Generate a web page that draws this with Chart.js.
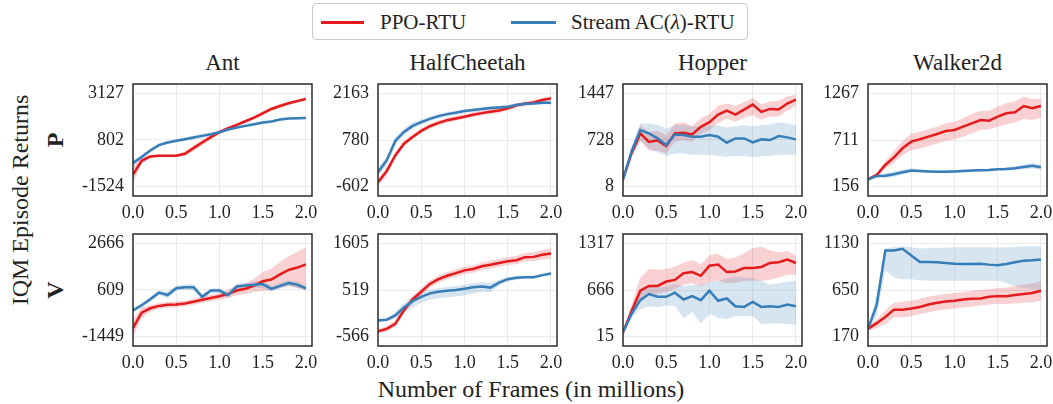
<!DOCTYPE html>
<html><head><meta charset="utf-8">
<script src="https://cdn.jsdelivr.net/npm/chart.js@4.4.1/dist/chart.umd.min.js"></script>
<style>
html,body{margin:0;padding:0;background:#fff;}
body{width:1053px;height:404px;position:relative;overflow:hidden;font-family:'Liberation Serif','Times New Roman',serif;color:#222;}
canvas{position:absolute;}
.t{position:absolute;white-space:nowrap;line-height:1;}
.legend{position:absolute;left:312px;top:3px;width:436px;height:37px;border:1.5px solid #c8c8c8;border-radius:4px;box-sizing:border-box;}
.sw{position:absolute;height:3px;top:17px;}
</style></head><body>
<div class="legend">
  <div class="sw" style="left:8px;width:43px;background:#e41a1c"></div>
  <div class="t" style="left:67px;top:8px;font-size:21px">PPO-RTU</div>
  <div class="sw" style="left:198px;width:45px;background:#377eb8"></div>
  <div class="t" style="left:258px;top:8px;font-size:21px">Stream AC(<i>λ</i>)-RTU</div>
</div>
<div class="t" style="left:20px;top:200px;font-size:24px;transform:translate(-50%,-50%) rotate(-90deg)">IQM Episode Returns</div>
<div class="t" style="left:55px;top:140px;font-size:24px;font-weight:bold;transform:translate(-50%,-50%) rotate(-90deg)">P</div>
<div class="t" style="left:55px;top:290px;font-size:24px;font-weight:bold;transform:translate(-50%,-50%) rotate(-90deg)">V</div>
<div class="t" style="left:531px;top:377px;font-size:24px;transform:translateX(-50%)">Number of Frames (in millions)</div>
<script>
const frames = [0.0,0.1,0.2,0.3,0.4,0.5,0.6,0.7,0.8,0.9,1.0,1.1,1.2,1.3,1.4,1.5,1.6,1.7,1.8,1.9,2.0];
const envNames = ['Ant','HalfCheetah','Hopper','Walker2d'];
const xTicks = [0.0,0.5,1.0,1.5,2.0];
const legendLabels = ['PPO-RTU','Stream AC(λ)-RTU'];

// ---- Row P ----
const antP_ticks = [-1524, 802, 3127];
const antP_ppo    = [-928,-233,-18,15,15,15,115,396,677,942,1190,1389,1554,1736,1918,2134,2349,2498,2630,2740,2850];
const antP_ppoLo  = [-1330,-390,-100,-45,-45,-45,0,250,530,810,1090,1300,1470,1650,1830,2040,2250,2400,2540,2650,2760];
const antP_ppoHi  = [-520,-80,60,75,75,75,230,550,830,1080,1290,1480,1640,1820,2000,2230,2440,2590,2720,2830,2940];
const antP_ac     = [-349,-51,280,545,677,760,843,925,1008,1091,1190,1323,1422,1505,1587,1670,1720,1819,1869,1885,1902];
const antP_acLo   = [-500,-170,180,465,597,680,753,825,908,1011,1120,1253,1352,1435,1507,1590,1650,1759,1809,1825,1842];
const antP_acHi   = [-200,70,380,625,757,840,933,1025,1108,1171,1260,1393,1492,1575,1667,1750,1790,1879,1929,1945,1962];

const hcP_ticks = [-602, 780, 2163];
const hcP_ppo   = [-473,-144,323,672,871,1050,1189,1289,1368,1418,1468,1527,1577,1617,1657,1716,1806,1855,1895,1965,2014];
const hcP_ppoLo = [-590,-250,230,590,800,980,1120,1220,1300,1350,1400,1460,1510,1550,1590,1650,1740,1790,1830,1900,1950];
const hcP_ppoHi = [-360,-40,410,750,940,1120,1260,1360,1440,1490,1540,1600,1650,1690,1730,1790,1870,1920,1960,2030,2080];
const hcP_ac    = [-174,174,751,1020,1199,1308,1408,1487,1547,1587,1637,1667,1697,1727,1746,1766,1816,1856,1865,1885,1885];
const hcP_acLo  = [-300,40,630,920,1110,1230,1340,1420,1480,1530,1580,1610,1640,1670,1690,1710,1760,1800,1810,1830,1830];
const hcP_acHi  = [-50,310,870,1120,1290,1390,1480,1550,1610,1650,1690,1720,1750,1780,1800,1820,1870,1910,1920,1940,1940];

const hopP_ticks = [8, 728, 1447];
const hopP_ppo   = [120,528,829,697,722,635,829,839,813,931,1003,1120,1181,1120,1197,1273,1161,1207,1197,1289,1350];
const hopP_ppoLo = [80,460,720,560,560,520,700,720,700,820,880,990,1060,1010,1070,1110,1040,1090,1090,1180,1260];
const hopP_ppoHi = [160,600,960,850,870,800,980,1000,940,1060,1130,1260,1290,1250,1310,1380,1280,1320,1330,1400,1430];
const hopP_ac    = [120,554,880,829,752,650,813,803,778,778,803,778,686,752,752,691,737,727,788,768,737];
const hopP_acLo  = [90,490,720,600,540,480,520,520,500,500,500,480,470,480,480,460,480,480,500,500,500];
const hopP_acHi  = [150,620,980,980,960,900,960,960,940,940,950,950,920,940,960,940,960,970,1000,980,960];

const walP_ticks = [156, 711, 1267];
const walP_ppo   = [243,295,414,505,613,692,720,752,783,819,831,870,910,950,942,989,1029,1041,1116,1089,1116];
const walP_ppoLo = [225,270,370,440,530,590,610,640,670,700,720,750,790,830,840,870,900,920,960,950,980];
const walP_ppoHi = [260,320,460,580,700,790,810,840,870,910,930,970,1020,1060,1060,1110,1150,1170,1230,1200,1200];
const walP_ac    = [243,283,287,303,327,347,342,338,335,335,338,342,347,351,355,362,366,374,390,406,386];
const walP_acLo  = [228,265,260,275,300,325,325,322,320,320,323,327,332,336,340,345,348,352,362,372,355];
const walP_acHi  = [258,300,320,340,360,375,360,354,350,350,353,357,362,366,370,380,386,398,420,440,420];

// ---- Row V ----
const antV_ticks = [-1449, 609, 2666];
const antV_ppo   = [-1072,-393,-197,-92,-46,-31,14,89,180,255,331,436,587,663,798,994,1070,1296,1492,1597,1740];
const antV_ppoLo = [-1450,-650,-350,-220,-170,-150,-110,-40,40,110,180,260,380,430,520,560,600,700,780,700,620];
const antV_ppoHi = [-700,-150,-60,30,80,100,140,220,320,400,480,620,800,900,1100,1400,1560,1850,2100,2300,2500];
const antV_ac    = [-292,-66,205,491,385,687,732,732,310,581,581,385,762,807,838,868,657,792,913,838,680];
const antV_acLo  = [-380,-160,90,380,230,560,620,560,180,480,470,250,620,680,700,700,520,660,780,700,560];
const antV_acHi  = [-200,30,320,600,540,810,840,880,440,680,690,520,900,930,970,1030,790,920,1040,980,800];

const hcV_ticks = [-566, 519, 1605];
const hcV_ppo   = [-440,-385,-267,48,299,480,661,771,850,913,976,1007,1070,1109,1149,1188,1212,1283,1290,1338,1369];
const hcV_ppoLo = [-500,-440,-340,-30,220,400,580,690,770,830,890,920,980,1020,1060,1100,1120,1190,1190,1230,1250];
const hcV_ppoHi = [-380,-330,-190,130,380,560,740,850,930,1000,1060,1090,1160,1200,1240,1280,1310,1380,1400,1450,1490];
const hcV_ac    = [-188,-173,-70,111,260,362,441,480,504,519,551,582,598,575,692,771,802,818,818,865,904];
const hcV_acLo  = [-220,-210,-150,-20,110,220,300,330,350,370,400,440,480,470,620,720,760,780,780,830,870];
const hcV_acHi  = [-150,-130,10,220,370,460,530,560,590,610,640,680,700,690,760,820,840,850,850,900,940];

const hopV_ticks = [15, 666, 1317];
const hopV_ppo   = [76,373,656,722,722,784,807,901,916,864,1005,1020,916,925,972,972,987,1043,1053,1091,1043];
const hopV_ppoLo = [50,300,540,600,610,640,680,740,760,720,780,800,760,770,790,800,790,810,840,880,880];
const hopV_ppoHi = [100,460,840,960,950,960,990,1050,1080,1020,1150,1170,1100,1120,1180,1250,1270,1220,1190,1210,1150];
const hopV_ac    = [76,335,524,609,571,571,628,534,581,524,656,515,548,439,430,501,430,439,430,463,439];
const hopV_acLo  = [50,280,400,440,430,450,440,270,360,200,330,280,260,300,300,300,190,200,200,190,180];
const hopV_acHi  = [100,390,640,720,700,710,750,720,740,740,780,790,830,850,840,830,790,740,760,780,790];

const walV_ticks = [170, 650, 1130];
const walV_ppo   = [250,309,372,448,448,459,476,500,518,532,539,553,560,563,580,587,587,598,608,619,643];
const walV_ppoLo = [230,260,300,370,370,380,400,420,440,450,460,470,480,490,500,505,505,510,520,525,540];
const walV_ppoHi = [270,350,440,520,530,540,560,580,595,610,620,630,640,650,660,670,675,690,705,720,740];
const walV_ac    = [250,493,1057,1057,1074,1005,939,939,935,928,921,918,918,921,911,904,918,935,952,956,963];
const walV_acLo  = [230,380,850,780,760,760,750,745,745,745,745,745,745,745,745,745,720,690,670,660,650];
const walV_acHi  = [270,600,1080,1090,1100,1090,1080,1080,1085,1085,1090,1090,1090,1090,1090,1085,1090,1095,1100,1100,1100];

const panels = [
  [antP_ticks,antP_ppo,antP_ppoLo,antP_ppoHi,antP_ac,antP_acLo,antP_acHi],
  [hcP_ticks,hcP_ppo,hcP_ppoLo,hcP_ppoHi,hcP_ac,hcP_acLo,hcP_acHi],
  [hopP_ticks,hopP_ppo,hopP_ppoLo,hopP_ppoHi,hopP_ac,hopP_acLo,hopP_acHi],
  [walP_ticks,walP_ppo,walP_ppoLo,walP_ppoHi,walP_ac,walP_acLo,walP_acHi],
  [antV_ticks,antV_ppo,antV_ppoLo,antV_ppoHi,antV_ac,antV_acLo,antV_acHi],
  [hcV_ticks,hcV_ppo,hcV_ppoLo,hcV_ppoHi,hcV_ac,hcV_acLo,hcV_acHi],
  [hopV_ticks,hopV_ppo,hopV_ppoLo,hopV_ppoHi,hopV_ac,hopV_acLo,hopV_acHi],
  [walV_ticks,walV_ppo,walV_ppoLo,walV_ppoHi,walV_ac,walV_acLo,walV_acHi]
];

const RED = '#e41a1c', BLUE = '#377eb8';
const RED_F = 'rgba(228,26,28,0.2)', BLUE_F = 'rgba(55,126,184,0.2)';
const boxLefts = [133, 378, 623, 868];
const rowTops = [84, 234];
const BOX_W = 179, BOX_H = 112;
const PL = 70, PT = 24, PR = 22, PB = 32;

// titles
envNames.forEach((n,i)=>{
  const d=document.createElement('div');
  d.className='t';
  d.textContent=n;
  d.style.cssText=`left:${boxLefts[i]+BOX_W/2}px;top:51px;font-size:23px;transform:translateX(-50%)`;
  document.body.appendChild(d);
});

const framePlugin = {id:'frame', afterDraw(chart){
  const {ctx, chartArea:a} = chart;
  ctx.save(); ctx.strokeStyle='#2b2b2b'; ctx.lineWidth=1.5;
  ctx.strokeRect(a.left, a.top, a.right-a.left, a.bottom-a.top);
  ctx.restore();
}};

const pts = arr => frames.map((f,i)=>({x:f, y:arr[i]}));
const font = {family:"'Liberation Serif','Times New Roman',serif", size:18};

panels.forEach((p,k)=>{
  const col = k%4, row = Math.floor(k/4);
  const [ticks,ppo,ppoLo,ppoHi,ac,acLo,acHi] = p;
  const cv = document.createElement('canvas');
  const W = BOX_W+PL+PR, H = BOX_H+PT+PB;
  cv.width=W; cv.height=H;
  cv.style.left=(boxLefts[col]-PL)+'px'; cv.style.top=(rowTops[row]-PT)+'px';
  cv.style.width=W+'px'; cv.style.height=H+'px';
  document.body.appendChild(cv);
  const span = ticks[2]-ticks[0];
  const band = (arr,color,fillTo)=>({data:pts(arr),borderWidth:0,borderColor:'transparent',backgroundColor:color,pointRadius:0,fill:fillTo===undefined?false:fillTo,tension:0});
  new Chart(cv,{
    type:'line',
    data:{datasets:[
      {label:legendLabels[1],data:pts(ac),borderColor:BLUE,borderWidth:2.5,pointRadius:0,fill:false,tension:0},
      {label:legendLabels[0],data:pts(ppo),borderColor:RED,borderWidth:2.5,pointRadius:0,fill:false,tension:0},
      band(acLo,BLUE_F),
      band(acHi,BLUE_F,2),
      band(ppoLo,RED_F),
      band(ppoHi,RED_F,4)
    ]},
    options:{
      responsive:false, animation:false, devicePixelRatio:1,
      layout:{padding:{left:0,top:PT,right:PR,bottom:0},autoPadding:false},
      plugins:{legend:{display:false},tooltip:{enabled:false}},
      scales:{
        x:{type:'linear',min:0,max:2.07,
           afterFit(s){s.height=PB;},
           afterBuildTicks(s){s.ticks=xTicks.map(v=>({value:v}));},
           ticks:{font,color:'#222',padding:6,maxRotation:0,callback:v=>Number(v).toFixed(1)},
           grid:{color:'#ebebeb',lineWidth:1,drawTicks:false},
           border:{display:false}},
        y:{type:'linear',min:ticks[0]-0.1*span,max:ticks[2]+0.1*span,
           afterFit(s){s.width=PL;},
           afterBuildTicks(s){s.ticks=ticks.map(v=>({value:v}));},
           ticks:{font,color:'#222',padding:9,callback:v=>String(v)},
           grid:{color:'#ebebeb',lineWidth:1,drawTicks:false},
           border:{display:false}}
      }
    },
    plugins:[framePlugin]
  });
});
</script>
</body></html>
